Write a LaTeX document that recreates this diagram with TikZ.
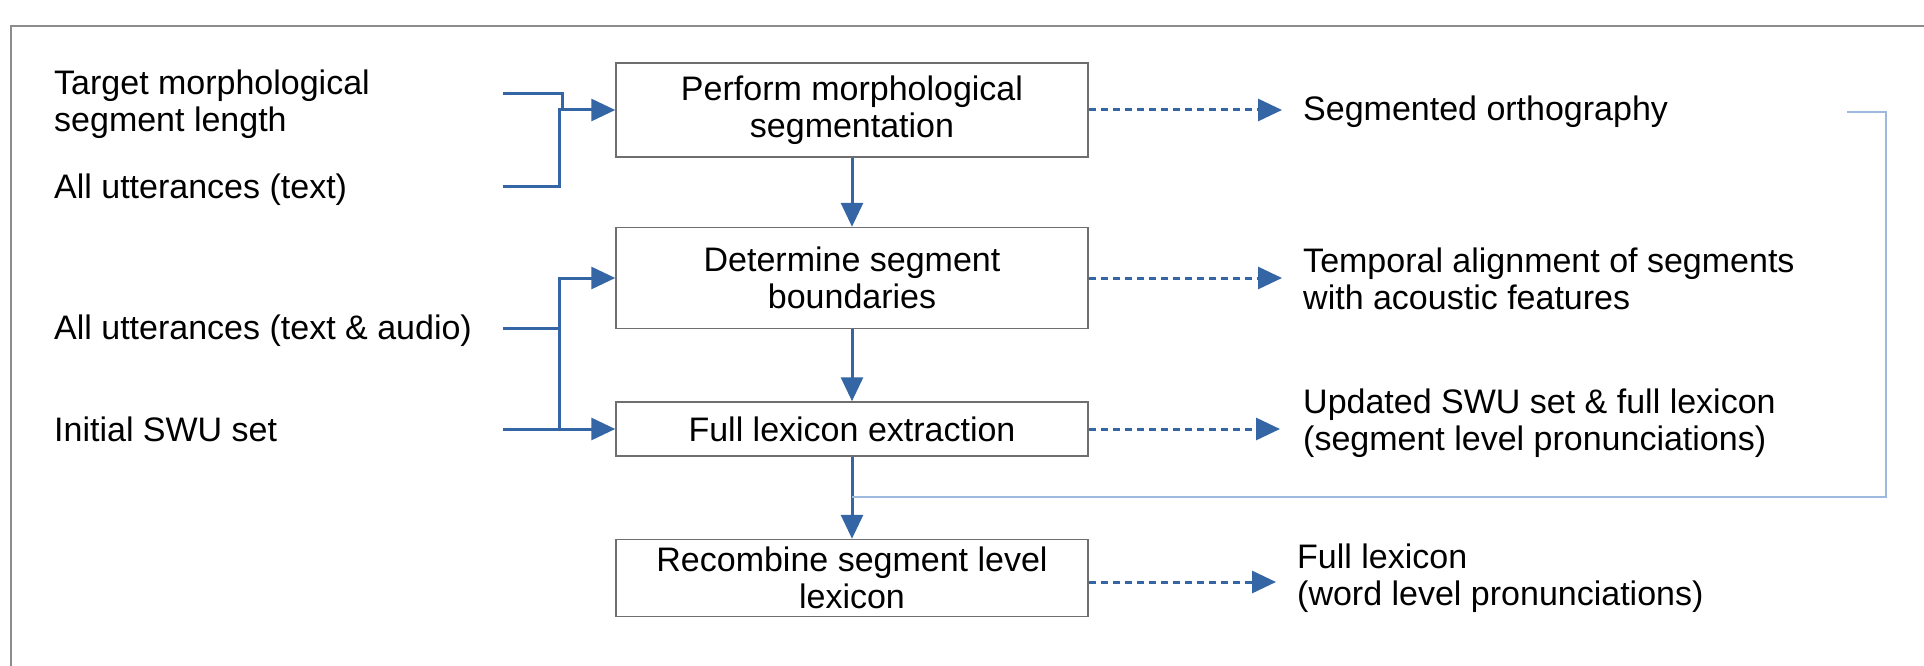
\documentclass[tikz,border=0pt]{standalone}
\usepackage{fontspec}
\setmainfont{Liberation Sans}
\usetikzlibrary{arrows.meta}

\definecolor{flowblue}{HTML}{3465A4}
\definecolor{loopblue}{HTML}{9DB9DD}
\definecolor{boxgray}{HTML}{6E6E6E}
\definecolor{framegray}{HTML}{8C8C8C}

\begin{document}
\begin{tikzpicture}[x=1pt, y=-1pt,
  every node/.style={font=\fontsize{34}{37}\selectfont},
  stage/.style={draw=boxgray, line width=1.5pt, rectangle, minimum width=472pt, align=center, inner sep=0pt},
  intext/.style={anchor=west, align=left, inner sep=0pt},
  wire/.style={flowblue, line width=3pt},
  flow/.style={wire, -{Triangle[length=24pt,width=22pt]}},
  result/.style={flow, dash pattern=on 7pt off 5pt},
  feedback/.style={loopblue, line width=2pt}]
\useasboundingbox (0,0) rectangle (1924,666);
\fill[white] (0,0) rectangle (1924,666);

% Frame
\draw[framegray, line width=2pt] (11,666) -- (11,26) -- (1924,26);

% Processing stages
\node[stage, minimum height=94pt] (segment) at (852,110) {Perform morphological\\segmentation};
\node[stage, minimum height=101pt] (bounds) at (852,278) {Determine segment\\boundaries};
\node[stage, minimum height=54pt] (extract) at (852,429) {Full lexicon extraction};
\node[stage, minimum height=77pt] (recombine) at (852,578) {Recombine segment level\\lexicon};

% Inputs
\node[intext] (target) at (54,104) {Target morphological\\segment length};
\node[intext] (alltext) at (54,190) {All utterances (text)};
\node[intext] (allaudio) at (54,331) {All utterances (text \& audio)};
\node[intext] (initswu) at (54,429) {Initial SWU set};

% Outputs
\node[intext] (orth) at (1303,112) {Segmented orthography};
\node[intext] (align) at (1303,279) {Temporal alignment of segments\\with acoustic features};
\node[intext] (lexseg) at (1303,423) {Updated SWU set \& full lexicon\\(segment level pronunciations)};
\node[intext] (lexword) at (1297,578) {Full lexicon\\(word level pronunciations)};

% Wire ends and junctions
\coordinate (tgtwire) at (503,94);
\coordinate (txtwire) at (503,186);
\coordinate (audwire) at (503,328);
\coordinate (swuwire) at (503,429);
\coordinate (merge1) at (559,110);
\coordinate (merge2) at (559,278);
\coordinate (merge3) at (559,429);

% Input wires
\draw[wire] (tgtwire) -| ([xshift=3pt]merge1);
\draw[flow] (txtwire) -| (merge1) -- (segment.west);
\draw[flow] (audwire) -| (merge2) -- (bounds.west);
\draw[wire] (merge2) -- (merge3);
\draw[flow] (swuwire) -- (extract.west);

% Main flow
\draw[flow] (segment) -- (bounds);
\draw[flow] (bounds) -- (extract);
\draw[flow] (extract) -- (recombine);

% Results
\coordinate (orthtip) at (1282,110);
\coordinate (aligntip) at (1282,278);
\coordinate (lexsegtip) at (1280,429);
\coordinate (lexwordtip) at (1276,582);
\draw[result] (segment.east) -- (orthtip);
\draw[result] (bounds.east) -- (aligntip);
\draw[result] (extract.east) -- (lexsegtip);
\draw[result] (recombine.east |- lexwordtip) -- (lexwordtip);

% Loop back of the segmented orthography
\coordinate (fbstart) at (1847,112);
\coordinate (fbturn) at (1886,112);
\coordinate (fbjoin) at (852,497);
\draw[feedback] (fbstart) -- (fbturn) |- (fbjoin);
\end{tikzpicture}
\end{document}
